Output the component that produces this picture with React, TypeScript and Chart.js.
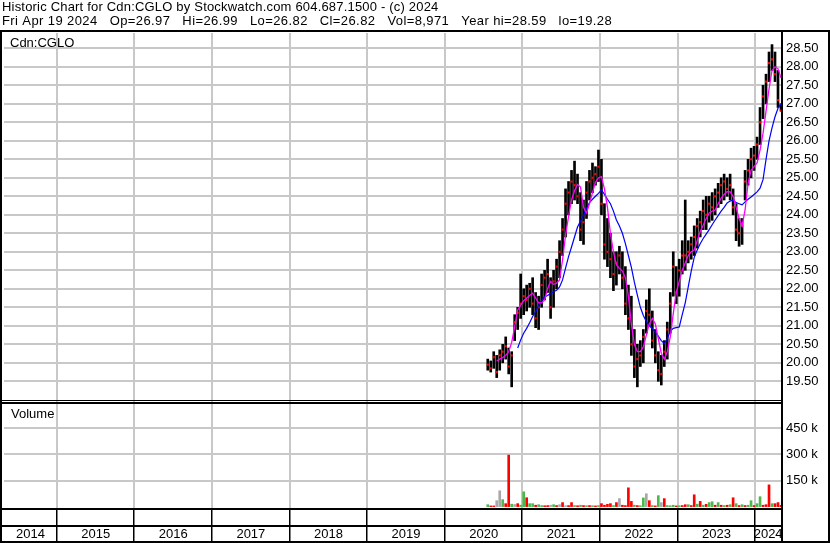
import React, { useEffect, useRef } from 'react';
import { Chart, registerables } from 'chart.js';

Chart.register(...registerables);

const FONT = "'Liberation Sans', Arial, Helvetica, sans-serif";
const GRID = '#c8c8c8';

const titleLines = [
  'Historic Chart for Cdn:CGLO by Stockwatch.com 604.687.1500 - (c) 2024',
  'Fri Apr 19 2024   Op=26.97   Hi=26.99   Lo=26.82   Cl=26.82   Vol=8,971   Year hi=28.59   lo=19.28',
];
const symbolLabel = 'Cdn:CGLO';
const volumeLabel = 'Volume';
const yearLabels = ['2014', '2015', '2016', '2017', '2018', '2019', '2020', '2021', '2022', '2023', '2024'];
const priceTicks = [19.5, 20, 20.5, 21, 21.5, 22, 22.5, 23, 23.5, 24, 24.5, 25, 25.5, 26, 26.5, 27, 27.5, 28, 28.5];
const volumeTicks = [150000, 300000, 450000];

// visible time window (decimal years)
const xMin = 2014.3188;
const xMax = 2024.3317;
// bar periods: first bar and spacing (about two weeks)
const firstBarYear = 2020.5527;
const barStepYears = 0.03856;

const lows = [
  19.8, 19.75, 19.85, 19.6, 19.8, 20.0, 20.1, 19.7, 19.35, 20.6,
  20.9, 21.2, 21.3, 21.4, 21.5, 21.3, 20.95, 20.9, 21.5, 21.7,
  21.9, 21.2, 21.5, 22.0, 22.3, 22.9, 23.4, 24.0, 24.3, 24.4,
  24.3, 23.3, 23.2, 23.9, 24.4, 24.6, 24.8, 24.9, 24.0, 22.8,
  22.6, 22.3, 21.95, 22.1, 22.4, 22.0, 21.3, 20.9, 20.2, 19.6,
  19.35, 19.9, 20.0, 20.8, 21.0, 20.4, 20.0, 19.5, 19.4, 19.9,
  20.1, 20.8, 21.8, 21.6, 21.8, 22.4, 22.5, 22.7, 22.8, 22.9,
  23.1, 23.4, 23.6, 23.6, 23.8, 23.85, 24.0, 24.2, 24.3, 24.4,
  24.5, 24.4, 24.0, 23.3, 23.15, 23.2, 24.4, 24.8, 25.0, 25.2,
  25.5, 25.9, 26.6, 27.0, 27.6, 27.9, 27.6, 26.9, 26.8,
];
const highs = [
  20.1, 20.05, 20.3, 20.2, 20.35, 20.5, 20.7, 20.4, 20.3, 21.3,
  21.5, 22.4, 22.0, 22.1, 22.15, 22.3, 21.9, 21.8, 22.4, 22.5,
  22.8, 22.3, 22.5, 22.8, 23.3, 23.9, 24.7, 24.9, 25.2, 25.45,
  25.1, 24.6, 24.4, 24.9, 25.2, 25.4, 25.3, 25.75, 25.5, 24.3,
  23.9, 23.5, 23.0, 23.0, 23.15, 23.0, 22.6, 22.1, 21.8, 20.9,
  20.5, 20.6, 20.9, 21.7, 22.0, 21.4, 20.9, 20.3, 20.2, 20.6,
  21.1, 21.9, 23.0, 22.6, 22.8, 23.3, 24.4, 23.3, 23.4, 23.7,
  23.9, 24.1, 24.4, 24.5, 24.5, 24.6, 24.7, 24.85, 25.0, 25.1,
  25.0, 25.1, 24.7, 24.3, 23.9, 23.9, 25.2, 25.5, 25.8, 25.85,
  26.1, 26.9, 27.5, 27.8, 28.4, 28.6, 28.4, 27.9, 27.0,
];
const closes = [
  19.95, 19.85, 20.15, 19.75, 20.2, 20.3, 20.45, 19.9, 20.2, 21.1,
  21.35, 21.6, 21.8, 21.7, 22.0, 21.6, 21.2, 21.5, 22.1, 22.3,
  22.4, 21.5, 22.2, 22.6, 23.0, 23.6, 24.3, 24.6, 24.9, 24.8,
  24.5, 23.6, 23.8, 24.6, 24.9, 25.0, 25.1, 25.3, 24.3, 23.2,
  23.0, 22.8, 22.4, 22.7, 22.9, 22.3, 21.6, 21.2, 20.5, 19.9,
  20.1, 20.2, 20.7, 21.4, 21.3, 20.6, 20.2, 19.8, 19.7, 20.3,
  20.9, 21.6, 22.6, 21.9, 22.5, 22.9, 22.9, 23.0, 23.2, 23.4,
  23.7, 23.8, 24.1, 24.0, 24.3, 24.2, 24.5, 24.6, 24.8, 24.9,
  24.7, 24.8, 24.2, 23.6, 23.5, 23.7, 24.9, 25.2, 25.5, 25.6,
  25.9, 26.5, 27.2, 27.6, 28.1, 28.2, 27.8, 27.1, 26.82,
];
// short moving average (magenta)
const fastMA = [
  null, null, null, 20.05, 20.1, 20.14, 20.2, 20.3, 20.55, 20.97,
  21.43, 21.55, 21.68, 21.75, 21.82, 21.88, 21.75, 21.62, 21.62, 21.7,
  22.0, 22.2, 22.12, 22.15, 22.24, 22.78, 23.45, 23.95, 24.4, 24.65,
  24.82, 24.75, 24.2, 24.05, 24.3, 24.6, 24.88, 25.0, 25.03, 24.7,
  24.2, 23.5, 23.0, 22.65, 22.55, 22.48, 22.3, 21.8, 21.05, 20.5,
  20.3, 20.3, 20.43, 20.75, 21.05, 21.2, 21.05, 20.65, 20.26, 20.1,
  20.3, 20.7, 21.33, 21.9, 22.2, 22.5, 22.7, 22.9, 23.0, 23.05,
  23.3, 23.55, 23.72, 23.9, 24.05, 24.1, 24.13, 24.3, 24.45, 24.55,
  24.63, 24.62, 24.5, 24.2, 23.9, 23.7, 24.13, 24.85, 25.2, 25.3,
  25.4, 25.75, 26.2, 26.8, 27.4, 27.9, 28.0, 27.95, 27.7,
];
// long moving average (blue)
const slowMA = [
  null, null, null, null, null, null, null, null, null, null,
  20.4, 20.62, 20.8, 20.93, 21.08, 21.25, 21.38, 21.55, 21.68, 21.78,
  21.82, 21.87, 21.92, 21.96, 22.05, 22.24, 22.56, 22.87, 23.13, 23.4,
  23.67, 23.83, 23.98, 24.18, 24.33, 24.42, 24.5, 24.58, 24.67, 24.55,
  24.42, 24.3, 24.1, 23.86, 23.7, 23.5, 23.22, 22.9, 22.58, 22.18,
  21.83, 21.5, 21.28, 21.12, 21.0, 20.92, 20.82, 20.72, 20.6, 20.52,
  20.65, 20.85, 20.93, 20.95, 20.97, 21.3, 21.62, 22.05, 22.48, 22.85,
  23.05, 23.22, 23.36, 23.48, 23.6, 23.73, 23.86, 23.98, 24.1, 24.2,
  24.32, 24.37, 24.4, 24.33, 24.3, 24.27, 24.35, 24.42, 24.48, 24.55,
  24.62, 24.72, 24.95, 25.5, 26.0, 26.35, 26.65, 26.88, 27.0,
];
// volume in thousands, and bar colour code (g = up, r = down, k = unchanged)
const volumesK = [
  11, 4, 4, 34, 91, 40, 17, 296, 14, 12,
  17, 8, 85, 51, 17, 17, 8, 11, 6, 5,
  6, 8, 11, 6, 11, 23, 5, 6, 23, 6,
  5, 8, 6, 5, 6, 5, 4, 6, 17, 8,
  13, 17, 6, 23, 46, 8, 6, 108, 30, 8,
  6, 5, 50, 74, 34, 6, 4, 63, 23, 46,
  6, 5, 8, 4, 5, 6, 11, 11, 6, 68,
  14, 30, 8, 13, 23, 28, 8, 23, 8, 6,
  8, 11, 51, 17, 6, 11, 6, 8, 34, 6,
  17, 57, 8, 11, 125, 17, 17, 23, 8,
];
const volumeDir = [
  'g', 'r', 'r', 'k', 'k', 'g', 'r', 'r', 'g', 'k',
  'r', 'g', 'g', 'r', 'g', 'g', 'r', 'g', 'g', 'r',
  'r', 'k', 'g', 'r', 'k', 'r', 'k', 'r', 'r', 'g',
  'r', 'g', 'r', 'g', 'r', 'g', 'r', 'g', 'r', 'r',
  'r', 'r', 'g', 'r', 'k', 'r', 'r', 'r', 'r', 'g',
  'r', 'g', 'g', 'k', 'r', 'g', 'r', 'g', 'k', 'r',
  'g', 'g', 'g', 'r', 'g', 'r', 'r', 'g', 'r', 'r',
  'g', 'r', 'g', 'r', 'g', 'g', 'r', 'g', 'r', 'g',
  'r', 'g', 'r', 'g', 'r', 'g', 'r', 'g', 'g', 'r',
  'g', 'g', 'r', 'r', 'r', 'g', 'r', 'r', 'r',
];
const dirColor: Record<string, string> = { g: '#4cb84c', r: '#ff0000', k: '#a8a8a8' };

const framePlugin = {
  id: 'stockwatchFrame',
  afterDraw(chart: any) {
    const ctx = chart.ctx as any;
    const { left, right, top, bottom } = chart.chartArea;
    const W = chart.width;
    const H = chart.height;
    const yv = chart.scales.yv;
    const xs = chart.scales.x;
    ctx.save();
    ctx.fillStyle = '#000';
    // title
    ctx.font = `13px ${FONT}`;
    ctx.textBaseline = 'alphabetic';
    ctx.textAlign = 'left';
    ctx.letterSpacing = '0.19px';
    ctx.fillText(titleLines[0], 2, 11);
    ctx.letterSpacing = '0.4px';
    ctx.fillText(titleLines[1], 2, 25);
    ctx.letterSpacing = '0px';
    // panel labels
    ctx.fillText(symbolLabel, left + 6, top + 14);
    ctx.fillText(volumeLabel, left + 7, yv.top + 17);
    // frame
    ctx.fillRect(0, top - 3, W, 2);
    ctx.fillRect(0, top - 3, 2, H - top + 3);
    ctx.fillRect(W - 2, top - 3, 2, H - top + 3);
    ctx.fillRect(right, top - 3, 2, H - top + 3);
    ctx.fillRect(0, yv.top - 1, right, 1);
    ctx.fillRect(0, yv.top + 1, right, 2);
    ctx.fillRect(0, bottom, right, 2);
    ctx.fillRect(0, bottom + 17, right, 2);
    ctx.fillRect(0, H - 2, W, 2);
    for (let yr = 2015; yr <= 2024; yr++) {
      const px = Math.round(xs.getPixelForValue(yr));
      ctx.fillRect(px - 1, bottom, 1.5, H - bottom);
    }
    ctx.restore();
  },
};

export default function App() {
  const ref = useRef<HTMLCanvasElement>(null);
  useEffect(() => {
    const canvas = ref.current;
    if (!canvas) return;
    const barT = highs.map((_, i) => firstBarYear + i * barStepYears);
    const pts = (arr: (number | null)[]) =>
      arr.map((v, i) => (v == null ? null : { x: barT[i], y: v })).filter((p) => p !== null) as { x: number; y: number }[];
    const yearCenters = yearLabels.map((y) => {
      const a = Math.max(Number(y), xMin);
      const b = Math.min(Number(y) + 1, xMax);
      return (a + b) / 2;
    });

    const chart = new Chart(canvas, {
      type: 'bar',
      data: {
        datasets: [
          {
            type: 'line',
            label: 'fast',
            data: pts(fastMA),
            borderColor: '#ff00ff',
            borderWidth: 1.3,
            pointRadius: 0,
            tension: 0,
            xAxisID: 'x',
            yAxisID: 'y',
            order: 0,
          } as any,
          {
            type: 'line',
            label: 'slow',
            data: pts(slowMA),
            borderColor: '#0000ff',
            borderWidth: 1.2,
            pointRadius: 0,
            tension: 0,
            xAxisID: 'x',
            yAxisID: 'y',
            order: 1,
          },
          {
            type: 'line',
            label: 'close',
            data: pts(closes),
            showLine: false,
            pointStyle: 'rect',
            pointRadius: 1.5,
            pointBorderWidth: 0,
            pointBackgroundColor: '#ff0000',
            xAxisID: 'x',
            yAxisID: 'y',
            order: 2,
          },
          {
            type: 'bar',
            label: 'range',
            data: barT.map((t, i) => ({ x: t, y: [lows[i], highs[i]] })),
            backgroundColor: '#000',
            barThickness: 2,
            grouped: false,
            xAxisID: 'x',
            yAxisID: 'y',
            order: 3,
          },
          {
            type: 'bar',
            label: 'volume',
            data: barT.map((t, i) => ({ x: t, y: volumesK[i] * 1000 })),
            backgroundColor: volumeDir.map((d) => dirColor[d] || '#ff0000'),
            barThickness: 2,
            grouped: false,
            xAxisID: 'x',
            yAxisID: 'yv',
            order: 4,
          },
        ] as any,
      },
      options: {
        responsive: false,
        animation: false,
        devicePixelRatio: 1,
        layout: { padding: { left: 2, top: 33, right: 0, bottom: 0 } },
        plugins: { legend: { display: false }, tooltip: { enabled: false }, title: { display: false } },
        scales: {
          x: {
            type: 'linear',
            position: 'bottom',
            min: xMin,
            max: xMax,
            offset: false,
            ticks: { display: false, stepSize: 1, includeBounds: false },
            grid: { color: GRID, lineWidth: 2, drawTicks: false, offset: false },
            border: { display: false },
            afterFit: (s: any) => {
              s.height = 0;
            },
          },
          xl: {
            type: 'linear',
            position: 'bottom',
            min: xMin,
            max: xMax,
            offset: false,
            grid: { display: false, offset: false },
            border: { display: false },
            afterBuildTicks: (s: any) => {
              s.ticks = yearCenters.map((v) => ({ value: v }));
            },
            ticks: {
              autoSkip: false,
              maxRotation: 0,
              minRotation: 0,
              padding: 11,
              color: '#000',
              font: { family: FONT, size: 13 },
              callback: (_v: any, i: number) => yearLabels[i],
            },
            afterFit: (s: any) => {
              s.height = 35;
            },
          },
          y: {
            type: 'linear',
            position: 'right',
            stack: 'panels',
            stackWeight: 368,
            min: 18.9676,
            max: 28.9135,
            afterBuildTicks: (s: any) => {
              s.ticks = priceTicks.map((v) => ({ value: v }));
            },
            ticks: {
              autoSkip: false,
              padding: 5,
              color: '#000',
              font: { family: FONT, size: 13 },
              callback: (v: any) => Number(v).toFixed(2),
            },
            grid: { color: GRID, lineWidth: 2, drawTicks: false },
            border: { display: false },
            afterFit: (s: any) => {
              s.width = 49;
            },
          },
          yv: {
            type: 'linear',
            position: 'right',
            stack: 'panels',
            stackWeight: 107,
            min: -8000,
            max: 607000,
            afterBuildTicks: (s: any) => {
              s.ticks = volumeTicks.map((v) => ({ value: v }));
            },
            ticks: {
              autoSkip: false,
              padding: 5,
              color: '#000',
              font: { family: FONT, size: 13 },
              callback: (v: any) => `${Math.round(Number(v) / 1000)} k`,
            },
            grid: { color: GRID, lineWidth: 2, drawTicks: false },
            border: { display: false },
            afterFit: (s: any) => {
              s.width = 49;
            },
          },
        } as any,
      },
      plugins: [framePlugin],
    });
    return () => chart.destroy();
  }, []);

  return (
    <div style={{ position: 'absolute', left: 0, top: 0, width: 830, height: 543, background: '#fff' }}>
      <canvas ref={ref} width={830} height={543} style={{ display: 'block', width: 830, height: 543 }} />
    </div>
  );
}
